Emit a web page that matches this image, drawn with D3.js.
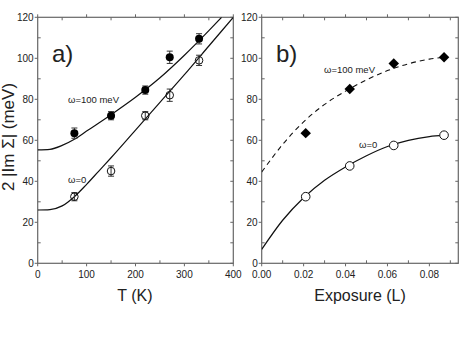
<!DOCTYPE html>
<meta charset="utf-8">
<head>
<script src="https://d3js.org/d3.v7.min.js"></script>
<style>
  body { margin: 0; background: #fff; }
  text { font-family: "Liberation Sans", Arial, sans-serif; fill: #222; }
</style>
</head>
<body>
<div id="my_dataviz"></div>
<script>

    // panel a) data: temperature dependence
    var tempA = [75, 150, 220, 270, 330];
    var filledA = [63.5, 72, 84.5, 100.5, 109.5];
    var filledAErr = [2.5, 2, 2, 3, 2.5];
    var openA = [32.5, 45, 72, 82, 99];
    var openAErr = [2, 2.5, 2, 3, 2.5];

    // fit curves
    var fitTFilled = [0, 25, 50, 75, 100, 150, 200, 250, 300, 350, 376];
    var fitFilled = [55.3, 55.6, 57.5, 60.5, 64.5, 72.5, 81, 90.5, 101.5, 113.5, 120];
    var fitTOpen = [0, 25, 50, 75, 100, 125, 150, 200, 250, 300, 350, 400];
    var fitOpen = [26, 26.2, 28, 32.5, 38.5, 45, 51.5, 65, 78.5, 92, 106, 120];

    // panel b) data: exposure dependence
    var expB = [0.021, 0.042, 0.063, 0.087];
    var diamondB = [63.5, 85, 97.5, 100.5];
    var openB = [32.5, 47.5, 57.5, 62.5];

    var fitExp = [0, 0.01, 0.02, 0.03, 0.04, 0.05, 0.06, 0.07, 0.08, 0.087];
    var fitDashed = [44.5, 58, 69, 77.5, 84, 89.5, 94, 97.3, 99.6, 100.5];
    var fitSolid = [6.8, 21, 32, 40.5, 47, 52.5, 57, 60, 61.8, 62.5];

    var yTicks = [0, 20, 40, 60, 80, 100, 120];
    var xTicksA = [0, 100, 200, 300, 400];
    var xTicksB = [0, 0.02, 0.04, 0.06, 0.08];

    var svg = d3.select("#my_dataviz")
      .append("svg")
        .attr("width", 463)
        .attr("height", 355);

    var y = d3.scaleLinear().domain([0, 120]).range([263.3, 17.3]);
    var xa = d3.scaleLinear().domain([0, 400]).range([37.7, 233.3]);
    var xb = d3.scaleLinear().domain([0, 0.0938]).range([261.7, 458.3]);

    var axisColor = "#666";

    function frame(x, majorX, minorX, fmt, id) {
      var x0 = x.range()[0], x1 = x.range()[1];
      var y0 = y.range()[0], y1 = y.range()[1];
      var g = svg.append("g");

      svg.append("clipPath").attr("id", id)
        .append("rect")
          .attr("x", x0).attr("y", y1)
          .attr("width", x1 - x0).attr("height", y0 - y1);

      // major ticks: outward on left/bottom, inward on right/top
      majorX.forEach(function(v) {
        g.append("line").attr("x1", x(v)).attr("x2", x(v)).attr("y1", y0).attr("y2", y0 + 3).attr("stroke", axisColor);
        g.append("line").attr("x1", x(v)).attr("x2", x(v)).attr("y1", y1).attr("y2", y1 - 3).attr("stroke", axisColor);
        g.append("text")
          .attr("x", x(v)).attr("y", 278)
          .attr("text-anchor", "middle")
          .style("font-size", "10px")
          .text(fmt(v));
      });
      minorX.forEach(function(v) {
        g.append("line").attr("x1", x(v)).attr("x2", x(v)).attr("y1", y0).attr("y2", y0 - 3).attr("stroke", axisColor);
        g.append("line").attr("x1", x(v)).attr("x2", x(v)).attr("y1", y1).attr("y2", y1 + 3).attr("stroke", axisColor);
      });
      yTicks.forEach(function(v) {
        g.append("line").attr("x1", x0 - 3).attr("x2", x0).attr("y1", y(v)).attr("y2", y(v)).attr("stroke", axisColor);
        g.append("line").attr("x1", x1 - 3).attr("x2", x1).attr("y1", y(v)).attr("y2", y(v)).attr("stroke", axisColor);
        g.append("text")
          .attr("x", x0 - 4).attr("y", y(v) + 3.5)
          .attr("text-anchor", "end")
          .style("font-size", "10px")
          .text(v);
      });
      d3.range(10, 120, 20).forEach(function(v) {
        g.append("line").attr("x1", x0).attr("x2", x0 + 3).attr("y1", y(v)).attr("y2", y(v)).attr("stroke", axisColor);
        g.append("line").attr("x1", x1 - 3).attr("x2", x1).attr("y1", y(v)).attr("y2", y(v)).attr("stroke", axisColor);
      });

      g.append("rect")
        .attr("x", x0).attr("y", y1)
        .attr("width", x1 - x0).attr("height", y0 - y1)
        .attr("fill", "none")
        .attr("stroke", axisColor)
        .attr("stroke-width", 1.2);
    }

    frame(xa, xTicksA, [50, 150, 250, 350], function(d) { return d; }, "clipA");
    frame(xb, xTicksB, [0.01, 0.03, 0.05, 0.07, 0.09], d3.format(".2f"), "clipB");

    var line = d3.line().curve(d3.curveMonotoneX);

    // panel a curves
    svg.append("path")
      .attr("d", line(fitTFilled.map(function(t, i) { return [xa(t), y(fitFilled[i])]; })))
      .attr("fill", "none").attr("stroke", "#111").attr("stroke-width", 1.2)
      .attr("clip-path", "url(#clipA)");
    svg.append("path")
      .attr("d", line(fitTOpen.map(function(t, i) { return [xa(t), y(fitOpen[i])]; })))
      .attr("fill", "none").attr("stroke", "#111").attr("stroke-width", 1.2)
      .attr("clip-path", "url(#clipA)");

    // error bars
    function errBars(vals, errs) {
      tempA.forEach(function(t, i) {
        var cx = xa(t);
        svg.append("line").attr("x1", cx).attr("x2", cx)
          .attr("y1", y(vals[i] - errs[i])).attr("y2", y(vals[i] + errs[i]))
          .attr("stroke", "#333");
        [vals[i] - errs[i], vals[i] + errs[i]].forEach(function(v) {
          svg.append("line").attr("x1", cx - 3).attr("x2", cx + 3)
            .attr("y1", y(v)).attr("y2", y(v)).attr("stroke", "#333");
        });
      });
    }
    errBars(filledA, filledAErr);
    errBars(openA, openAErr);

    svg.append("g").selectAll("circle")
      .data(tempA).enter().append("circle")
        .attr("cx", function(d) { return xa(d); })
        .attr("cy", function(d, i) { return y(filledA[i]); })
        .attr("r", 4)
        .style("fill", "#000");
    svg.append("g").selectAll("circle")
      .data(tempA).enter().append("circle")
        .attr("cx", function(d) { return xa(d); })
        .attr("cy", function(d, i) { return y(openA[i]); })
        .attr("r", 3.8)
        .style("fill", "none")
        .style("stroke", "#111");

    // panel b curves
    svg.append("path")
      .attr("d", line(fitExp.map(function(e, i) { return [xb(e), y(fitDashed[i])]; })))
      .attr("fill", "none").attr("stroke", "#111").attr("stroke-width", 1.1)
      .attr("stroke-dasharray", "5,4")
      .attr("clip-path", "url(#clipB)");
    svg.append("path")
      .attr("d", line(fitExp.map(function(e, i) { return [xb(e), y(fitSolid[i])]; })))
      .attr("fill", "none").attr("stroke", "#111").attr("stroke-width", 1.2)
      .attr("clip-path", "url(#clipB)");

    svg.append("g").selectAll("path")
      .data(expB).enter().append("path")
        .attr("d", d3.symbol().type(d3.symbolDiamond2).size(70))
        .attr("transform", function(d, i) { return "translate(" + xb(d) + "," + y(diamondB[i]) + ")"; })
        .style("fill", "#000");
    svg.append("g").selectAll("circle")
      .data(expB).enter().append("circle")
        .attr("cx", function(d) { return xb(d); })
        .attr("cy", function(d, i) { return y(openB[i]); })
        .attr("r", 4.3)
        .style("fill", "#fff")
        .style("stroke", "#111");

    // labels
    svg.append("text").attr("x", 52).attr("y", 62).style("font-size", "24px").text("a)");
    svg.append("text").attr("x", 276).attr("y", 62).style("font-size", "24px").text("b)");

    svg.append("text").attr("x", 68).attr("y", 103).style("font-size", "9.5px").text("ω=100 meV");
    svg.append("text").attr("x", 68).attr("y", 183).style("font-size", "9.5px").text("ω=0");
    svg.append("text").attr("x", 324).attr("y", 73).style("font-size", "9.5px").text("ω=100 meV");
    svg.append("text").attr("x", 359).attr("y", 148).style("font-size", "9.5px").text("ω=0");

    svg.append("text")
      .attr("x", 135).attr("y", 301)
      .attr("text-anchor", "middle")
      .style("font-size", "16px")
      .text("T (K)");
    svg.append("text")
      .attr("x", 360).attr("y", 301)
      .attr("text-anchor", "middle")
      .style("font-size", "16px")
      .text("Exposure (L)");
    svg.append("text")
      .attr("transform", "translate(14,137)rotate(-90)")
      .attr("text-anchor", "middle")
      .style("font-size", "17px")
      .text("2 |Im Σ| (meV)");

</script>
</body>
</html>
